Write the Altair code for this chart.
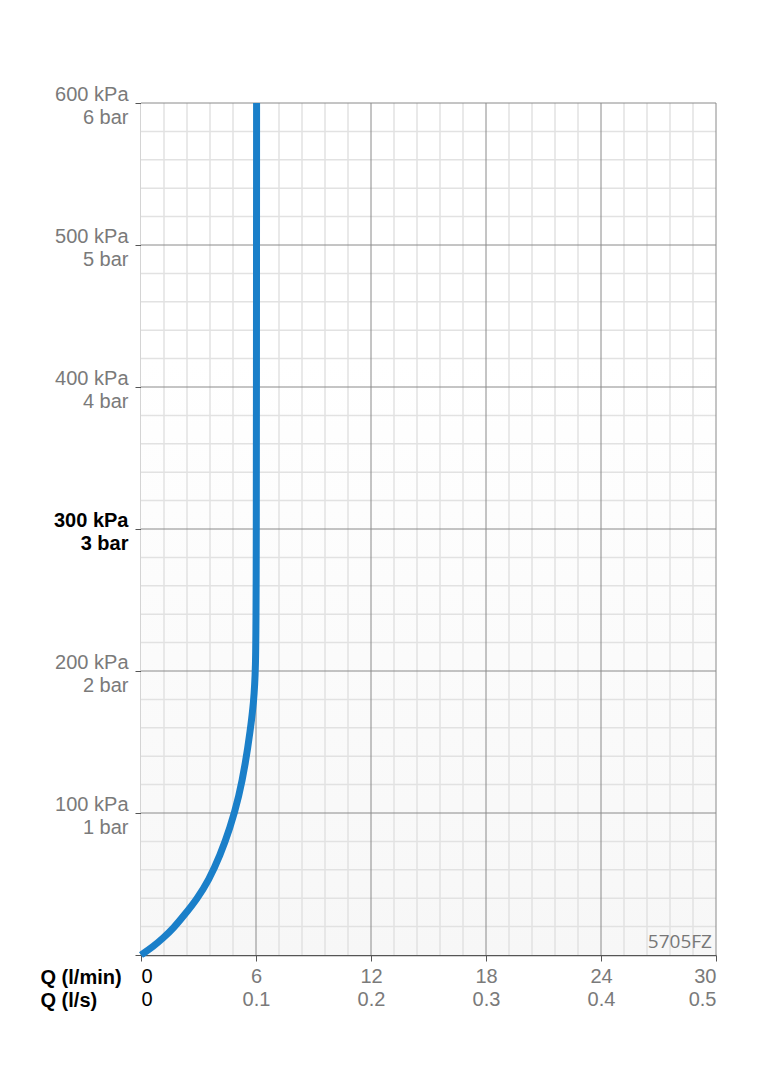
import altair as alt
import pandas as pd

# flow (l/min) vs pressure (kPa)
flow_lmin = [0, 0.64, 1.16, 1.7, 2.25, 2.9, 3.55, 4.12, 4.64, 5.12, 5.45, 5.7, 5.88, 5.98, 6.02, 6.03]
pressure_kpa = [0, 6, 12, 19, 28, 39, 53, 70, 89, 112, 135, 158, 178, 200, 250, 600]

x_major = [0, 6, 12, 18, 24, 30]
y_major = [0, 100, 200, 300, 400, 500, 600]
x_minor = [1.2, 2.4, 3.6, 4.8, 7.2, 8.4, 9.6, 10.8, 13.2, 14.4, 15.6, 16.8,
           19.2, 20.4, 21.6, 22.8, 25.2, 26.4, 27.6, 28.8]
y_minor = [20, 40, 60, 80, 120, 140, 160, 180, 220, 240, 260, 280, 320, 340, 360, 380,
           420, 440, 460, 480, 520, 540, 560, 580]
model_label = "5705FZ"

W, H = 575, 852
xs = alt.Scale(domain=[0, 30], nice=False, zero=False)
ys = alt.Scale(domain=[0, 600], nice=False, zero=False)

x_axis = alt.Axis(
    values=x_major, grid=False, tickSize=6, tickColor="#555555", domainColor="#555555",
    domainWidth=1.5, labelFontSize=20, labelLineHeight=23, labelPadding=5,
    labelBaseline="top",
    labelExpr="datum.value == 0 ? ['0', '0'] : [datum.label, format(datum.value / 60, '.1f')]",
    labelColor={"condition": {"test": "datum.value == 0", "value": "#000000"}, "value": "#7a7a7a"},
    title=["Q (l/min)", "Q (l/s)"], titleFontSize=20, titleFontWeight="bold",
    titleColor="#000000", titleLineHeight=23, titleAlign="left", titleBaseline="top",
    titleX=-101, titleY=12, titleAnchor="start",
)
y_axis = alt.Axis(
    values=y_major, grid=False, tickSize=6, tickColor="#555555", domainColor="#555555",
    domainWidth=1.5, labelFontSize=20, labelLineHeight=23, labelPadding=7, labelOffset=-9,
    labelExpr="datum.value == 0 ? '' : [datum.value + ' kPa', (datum.value / 100) + ' bar']",
    labelColor={"condition": {"test": "datum.value == 300", "value": "#000000"}, "value": "#7a7a7a"},
    labelFontWeight={"condition": {"test": "datum.value == 300", "value": "bold"}, "value": "normal"},
    title=None,
)

curve = pd.DataFrame({"q": flow_lmin, "p": pressure_kpa})

bg = alt.Chart(pd.DataFrame({"a": [0]})).mark_rect(
    color=alt.Gradient(
        gradient="linear",
        stops=[alt.GradientStop(color="#ffffff", offset=0),
               alt.GradientStop(color="#ffffff", offset=0.3),
               alt.GradientStop(color="#f7f7f7", offset=1)],
        x1=0, x2=0, y1=0, y2=1,
    )
).encode(x=alt.value(0), x2=alt.value(W), y=alt.value(0), y2=alt.value(H))

minor_v = alt.Chart(pd.DataFrame({"q": x_minor})).mark_rule(
    color="#e2e2e2", strokeWidth=1.5
).encode(x=alt.X("q:Q", scale=xs, axis=x_axis))
minor_h = alt.Chart(pd.DataFrame({"p": y_minor})).mark_rule(
    color="#e2e2e2", strokeWidth=1.5
).encode(y=alt.Y("p:Q", scale=ys, axis=y_axis))
major_v = alt.Chart(pd.DataFrame({"q": x_major[1:]})).mark_rule(
    color="#8a8a8a", strokeWidth=1
).encode(x=alt.X("q:Q", scale=xs, axis=x_axis))
major_h = alt.Chart(pd.DataFrame({"p": y_major[1:]})).mark_rule(
    color="#8a8a8a", strokeWidth=1
).encode(y=alt.Y("p:Q", scale=ys, axis=y_axis))

line = alt.Chart(curve).mark_line(
    color="#1a7fc9", strokeWidth=7, interpolate="basis", strokeCap="butt"
).encode(
    x=alt.X("q:Q", scale=xs, axis=x_axis),
    y=alt.Y("p:Q", scale=ys, axis=y_axis),
    order=alt.Order("p:Q"),
)

label = alt.Chart(pd.DataFrame({"t": [model_label]})).mark_text(
    align="right", baseline="bottom", font="Open Sans", fontSize=19, color="#777777"
).encode(text="t:N", x=alt.value(W - 4), y=alt.value(H - 3))

chart = alt.layer(bg, minor_v, minor_h, major_v, major_h, line, label).properties(
    width=W, height=H,
    autosize=alt.AutoSizeParams(type="none"),
    padding={"left": 133, "top": 95, "right": 40, "bottom": 100},
).configure(font="Liberation Sans").configure_view(stroke=None)

chart.save("out.html", embed_options={"renderer": "svg", "actions": False})
